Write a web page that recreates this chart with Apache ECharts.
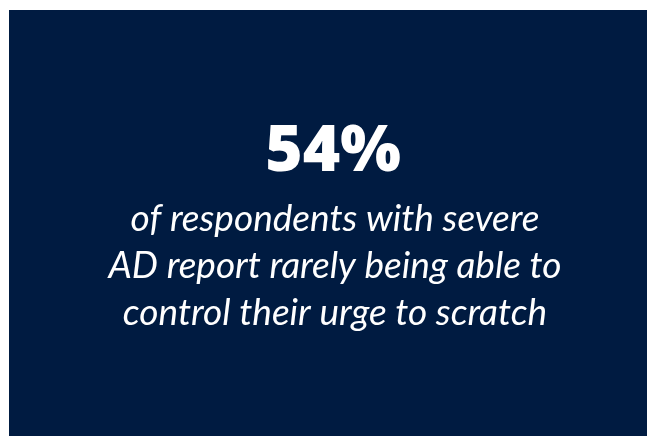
<!DOCTYPE html>
<html>
<head>
<meta charset="utf-8">
<script src="https://cdn.jsdelivr.net/npm/echarts@6/dist/echarts.min.js"></script>
<style>
html,body{margin:0;padding:0;background:#ffffff;}
#main{width:647px;height:436px;}
</style>
</head>
<body>
<div id="main"></div>
<script>
const headline = '54%';
const captionLines = [
  'of respondents with severe',
  'AD report rarely being able to',
  'control their urge to scratch'
];

const chart = echarts.init(document.getElementById('main'), null, {renderer: 'canvas'});
const option = {
  backgroundColor: '#ffffff',
  graphic: [
    {
      type: 'rect',
      shape: {x: 9, y: 10, width: 638, height: 426},
      style: {fill: '#001b41'}
    },
    {
      type: 'text',
      x: 333, y: 153,
      style: {
        text: headline,
        fill: '#ffffff',
        font: '800 64px "Open Sans", sans-serif',
        align: 'center',
        verticalAlign: 'middle'
      }
    },
    {
      type: 'text',
      x: 335, y: 266,
      style: {
        text: captionLines.join('\n'),
        fill: '#ffffff',
        font: 'italic 37px Lato, sans-serif',
        lineHeight: 47,
        align: 'center',
        verticalAlign: 'middle'
      }
    }
  ]
};
chart.setOption(option);
</script>
</body>
</html>
